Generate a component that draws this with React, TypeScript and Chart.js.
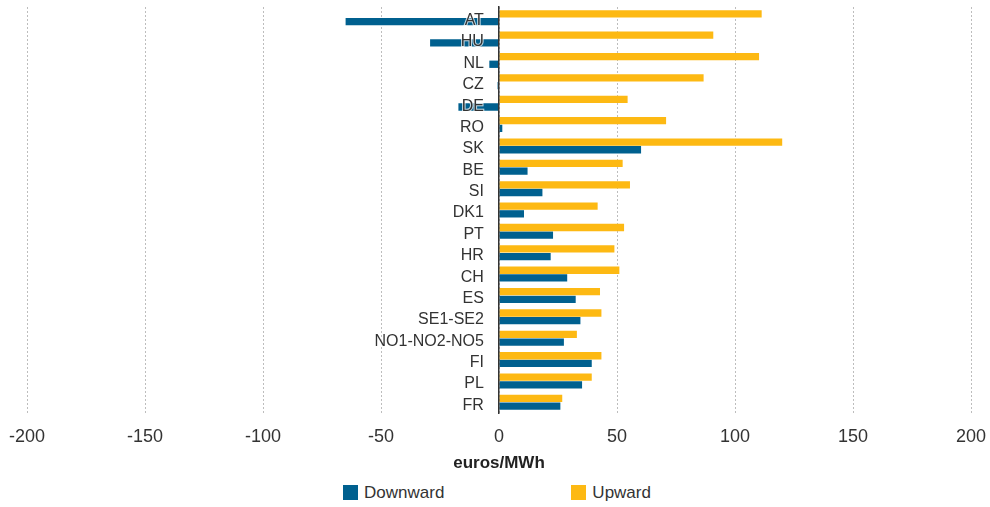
import React, { useEffect, useRef } from "react";
import { Chart, registerables } from "chart.js";

Chart.register(...registerables);

const categories = ["AT", "HU", "NL", "CZ", "DE", "RO", "SK", "BE", "SI", "DK1", "PT", "HR", "CH", "ES", "SE1-SE2", "NO1-NO2-NO5", "FI", "PL", "FR"];
const upward = [111.3, 90.8, 110.2, 86.7, 54.5, 70.8, 120, 52.4, 55.5, 41.8, 53, 48.9, 51, 42.8, 43.4, 33, 43.4, 39.3, 26.8];
const downward = [-65, -29.2, -4.1, -0.6, -17.2, 1.4, 60.2, 12.1, 18.4, 10.6, 22.9, 21.9, 28.9, 32.5, 34.5, 27.5, 39.3, 35.2, 26];
const xTicks = [-200, -150, -100, -50, 0, 50, 100, 150, 200];
const axisTitle = "euros/MWh";
const seriesNames = ["Downward", "Upward"];

const BLUE = "#00608F";
const ORANGE = "#FDB913";
const TEXT = "#333333";
const FONT = "'Liberation Sans', Arial, sans-serif";

export default function App() {
  const ref = useRef<HTMLCanvasElement | null>(null);

  useEffect(() => {
    if (!ref.current) return;
    const chart = new Chart(ref.current, {
      type: "bar",
      data: {
        labels: categories,
        datasets: [
          { label: seriesNames[1], data: upward, backgroundColor: ORANGE, categoryPercentage: 0.72, barPercentage: 0.95, yAxisID: "y" },
          { label: seriesNames[0], data: downward, backgroundColor: BLUE, categoryPercentage: 0.72, barPercentage: 0.95, yAxisID: "y" },
        ],
      },
      options: {
        indexAxis: "y",
        animation: false,
        responsive: false,
        maintainAspectRatio: false,
        layout: { padding: { top: 7, left: 27, right: 19, bottom: 0 } },
        plugins: { legend: { display: false }, tooltip: { enabled: false } },
        scales: {
          x: {
            type: "linear",
            min: -200,
            max: 200,
            afterBuildTicks: (axis: any) => {
              axis.ticks = xTicks.map((v) => ({ value: v }));
            },
            grid: { color: "#bdbdbd", lineWidth: 1, tickLength: 12, drawTicks: true, tickColor: "rgba(0,0,0,0)" },
            border: { display: false, dash: [2, 2] },
            ticks: {
              color: TEXT,
              padding: 1,
              maxRotation: 0,
              font: { family: FONT, size: 18 },
            },
            title: {
              display: true,
              text: axisTitle,
              color: "#222",
              padding: { top: 5, bottom: 2 },
              font: { family: FONT, size: 17, weight: "bold" },
            },
          },
          y: {
            type: "category",
            position: { x: -6.4 } as any,
            grid: { display: false, drawTicks: false },
            border: { display: false },
            ticks: {
              z: 2,
              color: TEXT,
              padding: 0,
              labelOffset: 3,
              autoSkip: false,
              textStrokeColor: "rgba(255,255,255,0.75)",
              textStrokeWidth: 2,
              font: { family: FONT, size: 16, lineHeight: 0.8 },
            },
          },
          y2: {
            type: "category",
            labels: categories,
            position: { x: 0 } as any,
            grid: { display: false, drawTicks: false },
            border: { display: true, color: "#333", width: 1.5, z: 1 },
            ticks: { display: false },
          },
        },
      },
    });
    return () => chart.destroy();
  }, []);

  const item = (name: string, color: string) => (
    <div style={{ display: "flex", alignItems: "center" }}>
      <span style={{ display: "inline-block", width: 15, height: 15, background: color, marginRight: 6 }} />
      <span style={{ fontFamily: FONT, fontSize: 17, color: TEXT, lineHeight: "17px" }}>{name}</span>
    </div>
  );

  return (
    <div style={{ position: "absolute", left: 0, top: 0, width: 990, height: 507, background: "#fff" }}>
      <canvas ref={ref} width={990} height={476} style={{ display: "block", width: 990, height: 476 }} />
      <div
        style={{
          position: "absolute",
          top: 484,
          left: 0,
          width: 990,
          paddingLeft: 4,
          boxSizing: "border-box",
          display: "flex",
          justifyContent: "center",
          gap: 127,
        }}
      >
        {item(seriesNames[0], BLUE)}
        {item(seriesNames[1], ORANGE)}
      </div>
    </div>
  );
}
